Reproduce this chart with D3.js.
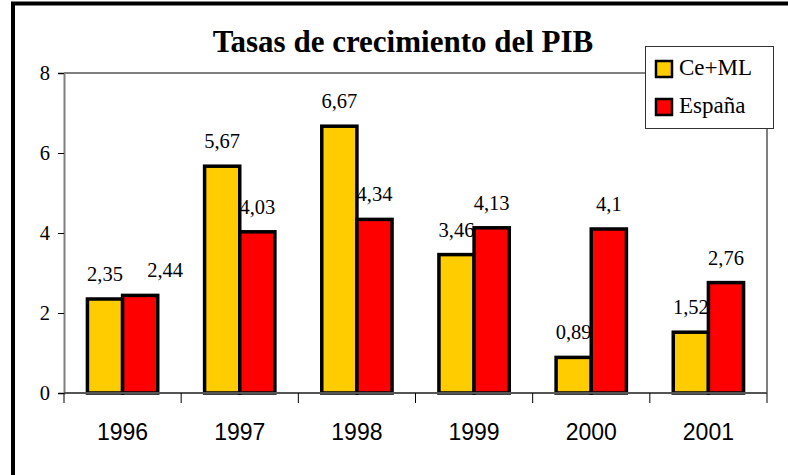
<!DOCTYPE html>
<html>
<head>
<meta charset="utf-8">
<script src="https://cdn.jsdelivr.net/npm/d3@7"></script>
<style>
  body { margin: 0; background: #fff; }
  svg { display: block; }
  .serif { font-family: "Liberation Serif", "Times New Roman", serif; }
  .sans { font-family: "Liberation Sans", Arial, sans-serif; }
</style>
</head>
<body>
<div class="chart"></div>
<script>
// chart data
var years = ["1996", "1997", "1998", "1999", "2000", "2001"];
var seriesNames = ["Ce+ML", "España"];
var ceml = [2.35, 5.67, 6.67, 3.46, 0.89, 1.52];
var espana = [2.44, 4.03, 4.34, 4.13, 4.1, 2.76];
var yTicks = [0, 2, 4, 6, 8];
var colors = ["#FFCC00", "#FF0000"];

var width = 788, height = 475;
var plot = {left: 64, right: 767, top: 73, bottom: 393};

var svg = d3.select(".chart").append("svg")
    .attr("width", width)
    .attr("height", height);

// outer frame (only top and left show)
svg.append("path")
    .attr("d", "M13,480 L13,3.5 L792,3.5")
    .attr("fill", "none")
    .attr("stroke", "#000")
    .attr("stroke-width", 4);

// scales
var x0 = d3.scaleBand()
    .domain(years)
    .range([plot.left, plot.right])
    .paddingInner(0.4)
    .paddingOuter(0.2);

var x1 = d3.scaleBand()
    .domain(seriesNames)
    .range([0, x0.bandwidth()]);

var y = d3.scaleLinear()
    .domain([0, 8])
    .range([plot.bottom, plot.top]);

// plot area border (top and right)
svg.append("path")
    .attr("d", "M" + plot.left + "," + plot.top + " L" + plot.right + "," + plot.top +
               " L" + plot.right + "," + plot.bottom)
    .attr("fill", "none")
    .attr("stroke", "#808080")
    .attr("stroke-width", 2);

// build rows
var rows = years.map(function(yr, i) {
    return {year: yr, values: [ceml[i], espana[i]]};
});

var groups = svg.selectAll(".grp")
    .data(rows)
    .enter().append("g")
    .attr("class", "grp")
    .attr("transform", function(d) { return "translate(" + x0(d.year) + ",0)"; });

groups.selectAll("rect")
    .data(function(d) { return d.values.map(function(v, j) { return {name: seriesNames[j], v: v, j: j}; }); })
    .enter().append("rect")
    .attr("x", function(d) { return x1(d.name); })
    .attr("y", function(d) { return y(d.v); })
    .attr("width", x1.bandwidth())
    .attr("height", function(d) { return y(0) - y(d.v); })
    .attr("fill", function(d) { return colors[d.j]; })
    .attr("stroke", "#000")
    .attr("stroke-width", 3.5);

// value labels; push the second one right when both sit at the same height
var fmt = function(v) { return String(v).replace(".", ","); };
groups.selectAll(".val")
    .data(function(d) {
        var close = Math.abs(y(d.values[0]) - y(d.values[1])) < 20;
        return d.values.map(function(v, j) { return {name: seriesNames[j], v: v, dx: (close && j === 1) ? 25 : 0}; });
    })
    .enter().append("text")
    .attr("class", "val serif")
    .attr("x", function(d) { return x1(d.name) + x1.bandwidth() / 2 + d.dx; })
    .attr("y", function(d) { return y(d.v) - 18; })
    .attr("text-anchor", "middle")
    .style("font-size", "20.5px")
    .text(function(d) { return fmt(d.v); });

// y axis
var yAxis = d3.axisLeft(y).tickValues(yTicks).tickSize(6).tickPadding(8);
var gy = svg.append("g")
    .attr("transform", "translate(" + plot.left + ",0)")
    .call(yAxis)
    .attr("font-family", null)
    .attr("font-size", null);
gy.select(".domain").attr("stroke", "#808080").attr("stroke-width", 2);
gy.selectAll(".tick line").attr("stroke", "#000");
gy.selectAll(".tick text")
    .attr("class", "serif")
    .style("font-size", "20.5px")
    .attr("fill", "#000");

// x axis: ticks at category boundaries
var bounds = years.map(function(yr) { return x0(yr) - x0.step() * x0.paddingInner() / 2; });
bounds.push(plot.right);
var gx = svg.append("g");
gx.append("line")
    .attr("x1", plot.left).attr("x2", plot.right)
    .attr("y1", y(0)).attr("y2", y(0))
    .attr("stroke", "#555")
    .attr("stroke-width", 2);
gx.selectAll(".xt")
    .data(bounds)
    .enter().append("line")
    .attr("x1", function(d) { return d; })
    .attr("x2", function(d) { return d; })
    .attr("y1", y(0))
    .attr("y2", y(0) + 10)
    .attr("stroke", "#000");
gx.selectAll(".xl")
    .data(years)
    .enter().append("text")
    .attr("class", "sans")
    .attr("x", function(d) { return x0(d) + x0.bandwidth() / 2; })
    .attr("y", 440)
    .attr("text-anchor", "middle")
    .style("font-size", "23px")
    .text(function(d) { return d; });

// title
svg.append("text")
    .attr("class", "serif")
    .attr("x", 403)
    .attr("y", 52)
    .attr("text-anchor", "middle")
    .style("font-size", "31px")
    .style("font-weight", "bold")
    .text("Tasas de crecimiento del PIB");

// legend
var legend = svg.append("g");
legend.append("rect")
    .attr("x", 645.5).attr("y", 46.5)
    .attr("width", 128).attr("height", 82)
    .attr("fill", "#fff")
    .attr("stroke", "#333")
    .attr("stroke-width", 1);
var items = legend.selectAll(".li")
    .data(seriesNames)
    .enter().append("g")
    .attr("transform", function(d, i) { return "translate(656," + (61 + i * 38) + ")"; });
items.append("rect")
    .attr("width", 16).attr("height", 16)
    .attr("fill", function(d, i) { return colors[i]; })
    .attr("stroke", "#000")
    .attr("stroke-width", 2.5);
items.append("text")
    .attr("class", "serif")
    .attr("x", 23)
    .attr("y", 14)
    .style("font-size", "23px")
    .text(function(d) { return d; });
</script>
</body>
</html>
